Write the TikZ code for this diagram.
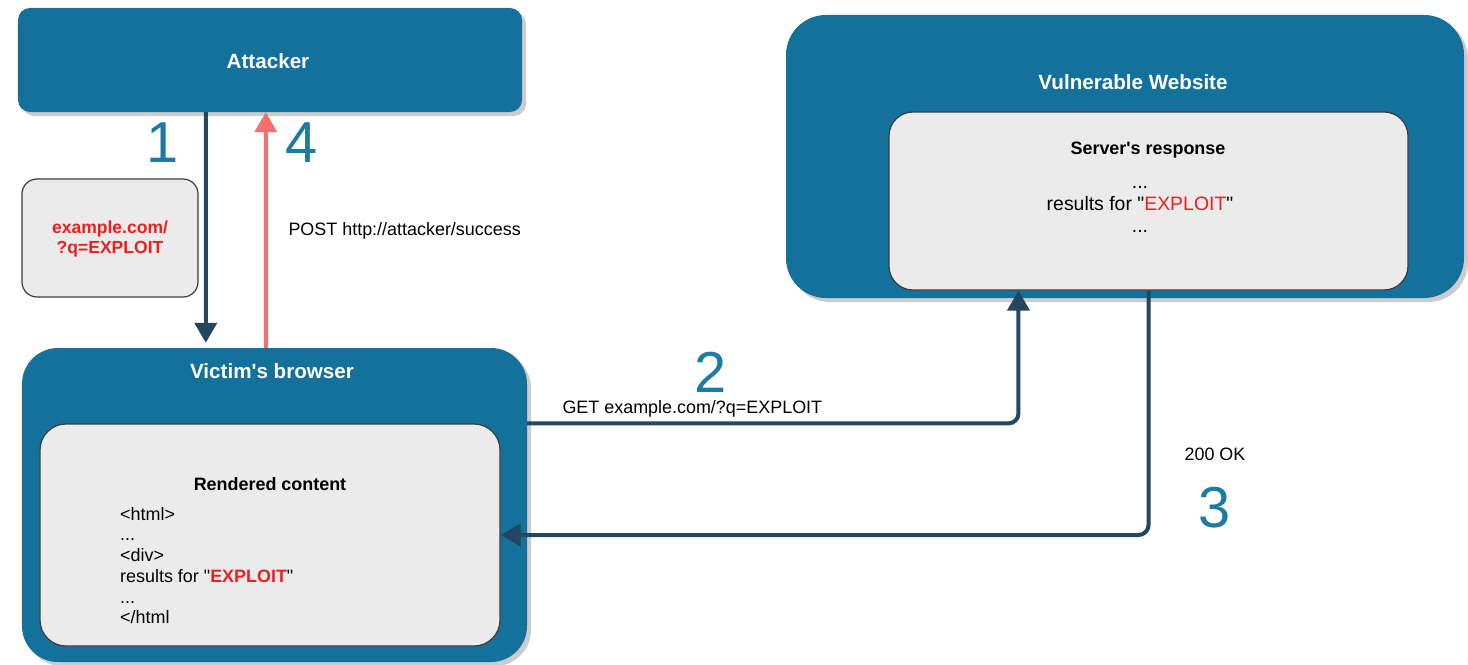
\documentclass[tikz,border=0pt]{standalone}
\usepackage{fontspec}
\setmainfont{Liberation Sans}[Ligatures=TeXOff]
\usetikzlibrary{arrows.meta,shadows,calc}
\definecolor{boxblue}{HTML}{13719B}
\definecolor{panel}{HTML}{EBEBEB}
\definecolor{panelline}{HTML}{3C3C3C}
\definecolor{navy}{HTML}{244760}
\definecolor{salmon}{HTML}{F86E6E}
\definecolor{numblue}{HTML}{1B7AA6}
\definecolor{exploitred}{HTML}{F01E1E}
% straight quote and apostrophe
\newcommand\dq{\symbol{34}}
\newcommand\sq{\symbol{39}}

\begin{document}
\begin{tikzpicture}[x=1bp,y=-1bp,
  actor/.style={fill=boxblue, draw=none, inner sep=0pt,
    drop shadow={shadow xshift=4bp, shadow yshift=-4bp, fill=black, opacity=0.2}},
  panelbox/.style={fill=panel, draw=panelline, line width=1.2bp, inner sep=0pt},
  title/.style={text=white, font=\bfseries\fontsize{20.7}{24}\selectfont},
  subtitle/.style={font=\bfseries\fontsize{18}{21}\selectfont},
  txt/.style={font=\fontsize{18}{20.8}\selectfont},
  num/.style={text=numblue, font=\fontsize{58}{60}\selectfont},
  conn/.style={draw=navy, line width=4bp, rounded corners=10bp,
    -{Triangle[width=22bp,length=20bp]}},
  back/.style={draw=salmon, line width=4bp,
    -{Triangle[width=22bp,length=20bp]}},
]
\useasboundingbox (0,0) rectangle (1468,665);

% Attacker
\node[actor, rounded corners=12bp, minimum width=504bp, minimum height=104bp]
  (att) at (270,60) {};
\node[title] (attl) at (268,61) {Attacker};

% Victim's browser
\node[actor, rounded corners=36bp, minimum width=505bp, minimum height=314bp]
  (vb) at (274.5,505) {};
\node[title] (vbl) at (272,371) {Victim\sq s browser};
\node[panelbox, rounded corners=26bp, minimum width=460bp, minimum height=222bp]
  (rc) at (270,535) {};
\node[subtitle] (rcl) at (270,484) {Rendered content};
\node[txt, anchor=north west, align=left, inner sep=0pt] (rct) at (120,507)
  {<html>\\...\\<div>\\results for \dq\textcolor{exploitred}{\bfseries EXPLOIT}\dq\\...\\</html};

% Vulnerable website
\node[actor, rounded corners=40bp, minimum width=678bp, minimum height=283bp]
  (vw) at (1125,156.5) {};
\node[title] (vwl) at (1133,82) {Vulnerable Website};
\node[panelbox, rounded corners=24bp, minimum width=519bp, minimum height=178bp]
  (sr) at (1148.5,201) {};
\node[subtitle] (srl) at (1148,150) {Server\sq s response};
\node[font=\fontsize{19.5}{21}\selectfont, align=center, inner sep=0pt, anchor=north]
  (srt) at (1140,186)
  {...\\[1pt]results for \dq\textcolor{exploitred}{EXPLOIT}\dq\\[1pt]...};

% Link handed to the victim
\node[panelbox, rounded corners=15bp, minimum width=176bp, minimum height=118bp]
  (url) at (110,238) {};
\node[font=\bfseries\fontsize{17.6}{21}\selectfont, text=exploitred, align=center]
  (urll) at (110,239) {example.com/\\?q=EXPLOIT};

% Step 1: attacker sends link; step 4: exfiltration back to attacker
\coordinate (a1) at ($(att.south west)+(188,0)$);
\coordinate (v1) at ($(vb.north west)+(184,-5)$);
\coordinate (v4) at ($(vb.north west)+(244,0)$);
\coordinate (a4) at ($(att.south west)+(248,0)$);
\draw[conn] (a1) -- (v1);
\draw[back] (v4) -- (a4);
\node[num] (n1) at (163,143) {1};
\node[num] (n4) at (302,143) {4};
\node[txt, anchor=west] (post) at (285,231) {POST http://attacker/success};

% Step 2: request to the website
\coordinate (s2) at ($(sr.south west)!0.25!(sr.south east)$);
\draw[conn] (vb.east |- rc.north) -| (s2);
\node[num] (n2) at (711,372) {2};
\node[txt, anchor=west] (get) at (559,409) {GET example.com/?q=EXPLOIT};

% Step 3: response rendered in the browser
\draw[conn] (sr.south) |- (rc.east);
\node[txt] (ok) at (1215,454) {200 OK};
\node[num] (n3) at (1215,508) {3};
\end{tikzpicture}
\end{document}
